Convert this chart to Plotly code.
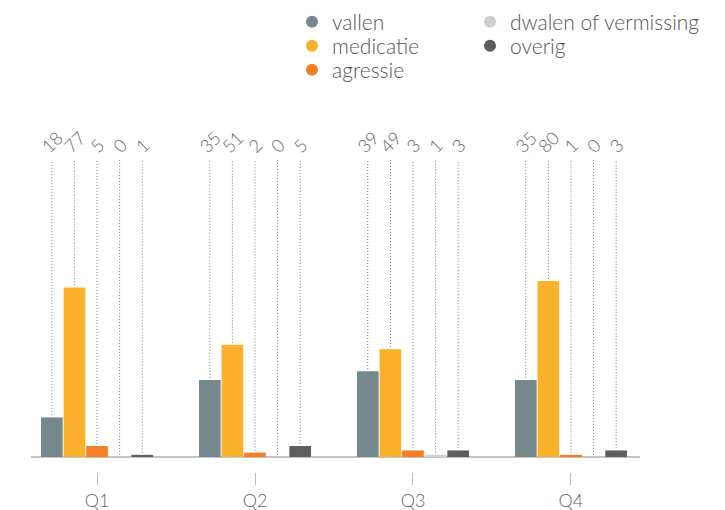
import plotly.graph_objects as go

quarters = ["Q1", "Q2", "Q3", "Q4"]
series_names = ["vallen", "medicatie", "agressie", "dwalen of vermissing", "overig"]
vallen = [18, 35, 39, 35]
medicatie = [77, 51, 49, 80]
agressie = [5, 2, 3, 1]
dwalen = [0, 0, 1, 0]
overig = [1, 5, 3, 3]
series_values = [vallen, medicatie, agressie, dwalen, overig]
colors = ["#75888e", "#fbb12b", "#f47f24", "#cfcfcf", "#5e5e5e"]
label_level = 135

FONT = "Lato"
LEGEND_IDS = ["legend", "legend2", "legend3", "legend4", "legend5"]

fig = go.Figure()

for i, (name, vals, col) in enumerate(zip(series_names, series_values, colors)):
    g = f"g{i}"
    fig.add_trace(go.Bar(
        x=quarters, y=vals, marker=dict(color=col, line=dict(width=0)),
        offsetgroup=g, showlegend=False, name=name,
    ))
    # transparent bar carrying the rotated label at fixed level
    fig.add_trace(go.Bar(
        x=quarters, y=[label_level - v for v in vals], base=vals,
        marker=dict(color="rgba(0,0,0,0)", line=dict(width=0)),
        offsetgroup=g, showlegend=False, hoverinfo="skip",
        text=[str(v) for v in vals], textposition="outside", textangle=-45,
        constraintext="none", cliponaxis=False,
        outsidetextfont=dict(family=FONT, size=18, color="#666666", weight=300),
    ))
    # dotted leader lines
    xs, ys = [], []
    for q, v in zip(quarters, vals):
        xs += [q, q, None]
        ys += [v + 1, label_level, None]
    fig.add_trace(go.Scatter(
        x=xs, y=ys, mode="lines", offsetgroup=g,
        line=dict(color="#777777", width=1, dash="1px,2px"),
        showlegend=False, hoverinfo="skip", cliponaxis=False,
    ))
    # legend entry with circle marker
    fig.add_trace(go.Scatter(
        x=[None], y=[None], mode="markers", offsetgroup=g, name=name,
        marker=dict(size=12, color=col), legend=LEGEND_IDS[i],
    ))

# plot area on screen: x 31..640, y 110..472 (page has an 8px body margin)
PX0, PW, PY1, PH = 31, 609, 472, 362
legend_spots = [(292, 22), (292, 46), (292, 70), (470, 22), (470, 46)]
legend_layouts = {}
for lid, (sx, sy) in zip(LEGEND_IDS, legend_spots):
    legend_layouts[lid] = dict(
        x=(sx - PX0) / PW, y=(PY1 - sy) / PH, xanchor="left", yanchor="middle",
        font=dict(family=FONT, size=21, color="#555555", weight=300),
        bgcolor="rgba(0,0,0,0)", borderwidth=0,
    )

fig.update_layout(
    width=717, height=502,
    margin=dict(l=23, r=85, t=102, b=38, autoexpand=False),
    paper_bgcolor="white", plot_bgcolor="white",
    barmode="group", bargap=0.285, bargroupgap=0.04,
    scattermode="group", scattergap=0.285,
    font=dict(family=FONT, color="#666666"),
    xaxis=dict(
        type="category", range=[-0.418, 3.437],
        showline=False, showgrid=False, zeroline=False,
        ticks="outside", ticklen=12, tickwidth=1, tickcolor="#bbbbbb",
        tickfont=dict(family=FONT, size=18, color="#666666", weight=300),
        automargin=False,
    ),
    yaxis=dict(
        range=[-6.8, 157.7], showgrid=False, showticklabels=False,
        zeroline=True, zerolinecolor="#c4c4c4", zerolinewidth=2,
        showline=False, ticks="", automargin=False,
    ),
    **legend_layouts,
)

fig.write_html("out.html")
